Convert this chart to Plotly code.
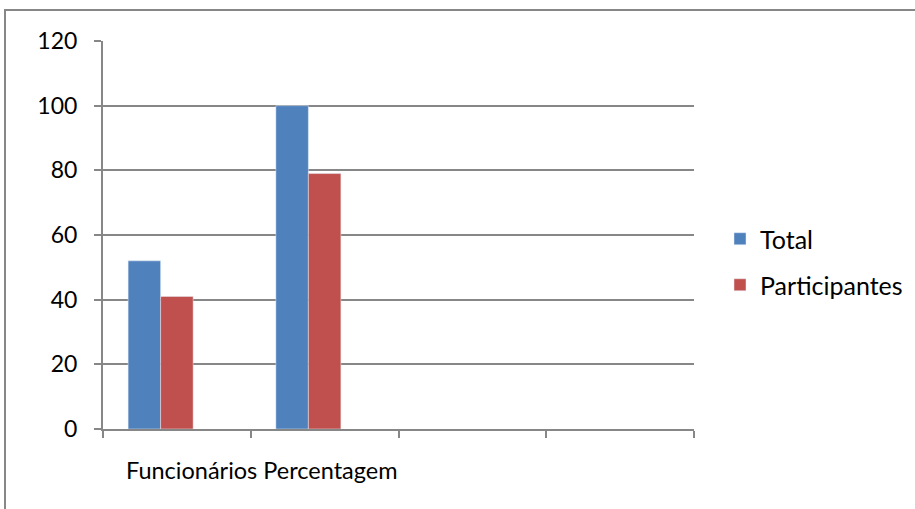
import plotly.graph_objects as go

# Category slots on the x axis (two filled, two empty)
categories = ["Funcionários", "Percentagem", "", ""]
total = [52, 100, None, None]
participantes = [41, 79, None, None]
spare = [None, None, None, None]
y_ticks = [0, 20, 40, 60, 80, 100, 120]
x_caption = "Funcionários Percentagem"

W, H = 915, 509
L, R, T, B = 103, 221, 41, 80
plot_w = W - L - R
plot_h = H - T - B

FONT = "Lato"
GRID = "#878787"

idx = list(range(len(categories)))

fig = go.Figure()
fig.add_trace(go.Bar(x=idx, y=total, name="Total", marker_color="#4F81BD",
                     legendgroup="a"))
fig.add_trace(go.Bar(x=idx, y=participantes, name="Participantes",
                     marker_color="#C0504D", legendgroup="b"))
fig.add_trace(go.Bar(x=idx, y=spare, name="", showlegend=False,
                     marker_color="#9BBB59"))


def px_x(p):
    return (p - L) / plot_w


def px_y(p):
    return (H - B - p) / plot_h


# Outer chart frame (right and bottom edges fall outside the page)
fig.add_shape(type="rect", xref="paper", yref="paper",
              x0=px_x(5), x1=px_x(925), y0=px_y(520), y1=px_y(10),
              line=dict(color=GRID, width=2), fillcolor="rgba(0,0,0,0)",
              layer="below")

fig.add_annotation(text=x_caption, xref="paper", yref="paper",
                   x=px_x(124), y=px_y(470), xanchor="left", yanchor="middle",
                   showarrow=False, font=dict(family=FONT, size=23.5, color="#000"))

fig.update_layout(
    width=W, height=H,
    margin=dict(l=L, r=R, t=T, b=B, pad=0, autoexpand=False),
    paper_bgcolor="white", plot_bgcolor="white",
    barmode="group", bargap=0.34, bargroupgap=0,
    showlegend=True,
    legend=dict(x=px_x(720), y=px_y(216), xanchor="left", yanchor="top",
                traceorder="grouped", tracegroupgap=10.5,
                font=dict(family=FONT, size=25, color="#000"),
                bgcolor="rgba(0,0,0,0)"),
    font=dict(family=FONT, color="#000"),
)

fig.update_xaxes(
    range=[-0.5, len(categories) - 0.5],
    tickvals=[i - 0.5 for i in range(len(categories) + 1)],
    showticklabels=False, ticks="outside", ticklen=7, tickwidth=2,
    tickcolor=GRID, showgrid=False, zeroline=False,
    showline=True, linecolor=GRID, linewidth=2,
)
fig.update_yaxes(
    range=[0, 120], tickvals=y_ticks,
    ticks="outside", ticklen=7, tickwidth=2, tickcolor=GRID,
    showgrid=True, gridcolor=GRID, gridwidth=2, zeroline=False,
    showline=True, linecolor=GRID, linewidth=2,
    tickfont=dict(family=FONT, size=23, color="#000"),
    ticklabelstandoff=12,
)

fig.write_html("out.html")
